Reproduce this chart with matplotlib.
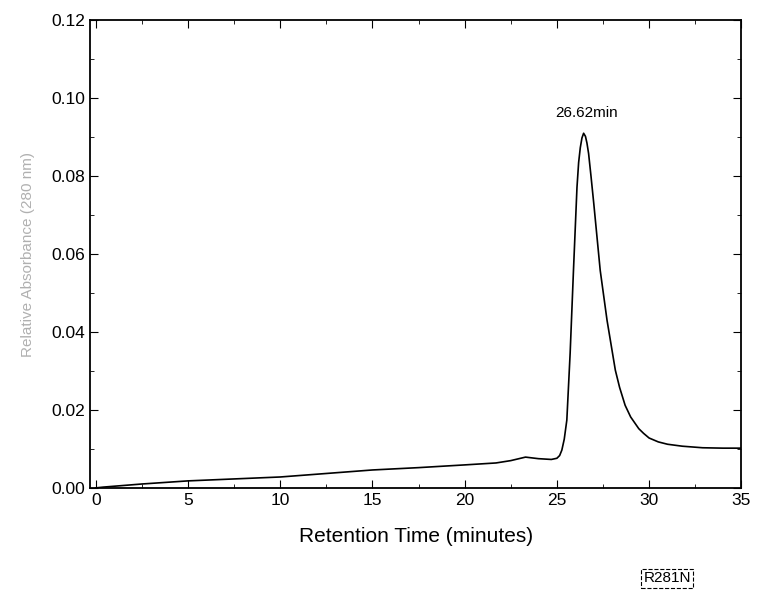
import matplotlib.pyplot as plt
from matplotlib.ticker import MultipleLocator

plt.rcParams['font.family'] = ['Liberation Sans', 'DejaVu Sans']

# retention time (min) and absorbance
time = [0.0, 0.4, 2.5, 5.0, 7.5, 10.0, 12.5, 15.0, 17.5, 20.0, 21.7, 22.5, 23.3,
        24.0, 24.7, 25.0, 25.15, 25.27, 25.4, 25.54, 25.72, 25.9, 26.09, 26.18,
        26.27, 26.36, 26.45, 26.55, 26.63, 26.72, 26.85, 27.0, 27.35, 27.72, 28.17,
        28.4, 28.7, 29.0, 29.44, 29.7, 30.0, 30.5, 31.0, 31.8, 32.9, 34.0, 35.0]
absorb = [0.0, 0.0002, 0.0010, 0.0018, 0.0023, 0.0028, 0.0037, 0.0046, 0.0052,
          0.0059, 0.0064, 0.0070, 0.0079, 0.0075, 0.0073, 0.0076, 0.0083, 0.0097,
          0.0125, 0.0174, 0.0346, 0.0558, 0.0771, 0.0835, 0.0873, 0.0898, 0.0910,
          0.0902, 0.0885, 0.0858, 0.0800, 0.0730, 0.0558, 0.0430, 0.0302, 0.0258,
          0.0212, 0.0182, 0.0152, 0.0140, 0.0128, 0.0118, 0.0112, 0.0107, 0.0103,
          0.0102, 0.0102]

fig = plt.figure(figsize=(7.58, 5.95), dpi=100)
ax = fig.add_axes([0.119, 0.180, 0.859, 0.786])

ax.plot(time, absorb, color='k', lw=1.2)

ax.set_xlim(-0.3, 35)
ax.set_ylim(0, 0.12)
ax.xaxis.set_major_locator(MultipleLocator(5))
ax.xaxis.set_minor_locator(MultipleLocator(2.5))
ax.yaxis.set_major_locator(MultipleLocator(0.02))
ax.yaxis.set_minor_locator(MultipleLocator(0.01))
ax.tick_params(which='both', direction='in', top=True, right=True, labelsize=12.5)
ax.tick_params(which='major', length=6)
ax.tick_params(which='minor', length=3)
ax.set_yticks([0, 0.02, 0.04, 0.06, 0.08, 0.10, 0.12])
ax.set_yticklabels(['0.00', '0.02', '0.04', '0.06', '0.08', '0.10', '0.12'])
ax.set_xticks([0, 5, 10, 15, 20, 25, 30, 35])
for s in ax.spines.values():
    s.set_linewidth(1.3)

ax.set_xlabel('Retention Time (minutes)', fontsize=15, labelpad=14)
ax.set_ylabel('Relative Absorbance (280 nm)', fontsize=11, color='#b0b0b0', labelpad=12)

ax.text(26.6, 0.0945, '26.62min', fontsize=11, ha='center', va='bottom')

fig.text(0.88, 0.028, 'R281N', fontsize=11, ha='center', va='center',
         bbox=dict(boxstyle='square,pad=0.15', fc='white', ec='k', lw=0.8, ls='--'))

plt.savefig('out.png', dpi=100)
